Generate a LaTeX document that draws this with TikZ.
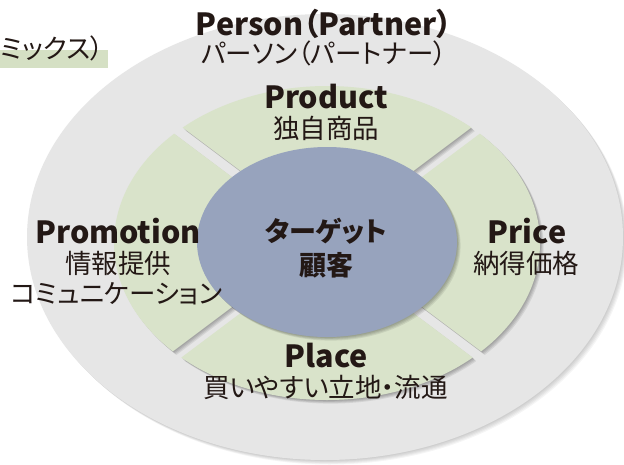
\documentclass[tikz,border=0pt]{standalone}
\usepackage{fontspec}
\setmainfont{Noto Sans CJK JP}[RawFeature=+palt]
\definecolor{ringgray}{HTML}{E6E6E6}
\definecolor{sage}{HTML}{D9E3CA}
\definecolor{bandgreen}{HTML}{D5E0C4}
\definecolor{targetblue}{HTML}{97A3BD}
\definecolor{ink}{HTML}{231815}
\newcommand\greenfill[1]{\fill[#1] (327,243) ellipse [x radius=213, y radius=157];}
\newcommand\sect[1]{\begin{scope}\clip #1; \greenfill{sage}\end{scope}}
\newcommand\sectshadow[1]{\foreach \k in {1,...,4}{\begin{scope}[shift={(\k*0.9,\k*0.9)}]\clip #1; \greenfill{black,opacity=0.08}\end{scope}}}
\tikzset{
  enlabel/.style={font=\fontsize{30.5}{30.5}\selectfont\bfseries, text=ink, inner sep=0pt, anchor=base},
  jplabel/.style={font=\fontsize{26.5}{26.5}\selectfont, text=ink, inner sep=0pt, anchor=base},
  tglabel/.style={font=\fontsize{27}{27}\selectfont\bfseries, text=ink, inner sep=0pt, anchor=base},
  titlelabel/.style={font=\fontsize{26.5}{26.5}\selectfont, text=ink, inner sep=0pt, anchor=base west}
}
\begin{document}
\begin{tikzpicture}[x=1pt,y=-1pt]
\useasboundingbox (0,0) rectangle (624,464);
\clip (0,0) rectangle (624,464);
\fill[white] (0,0) rectangle (624,464);
% top-left fragment
\fill[bandgreen] (0,50) rectangle (108,68);
\node[titlelabel] (mix) at (0.5,58) {ミックス）};
% outer ring
\foreach \k in {1,...,5}{\fill[black,opacity=0.04] (325+\k*0.9,237+\k*0.9) ellipse [x radius=298, y radius=223];}
\fill[ringgray] (325,237) ellipse [x radius=298, y radius=223];
% sector shadows
\sectshadow{(327,235.75) -- (727,-64.25) -- (-73,-64.25) -- cycle}
\sectshadow{(327,248.25) -- (727,548.25) -- (-73,548.25) -- cycle}
\sectshadow{(335.33,242) -- (735.33,-58) -- (735.33,542) -- cycle}
\sectshadow{(318.67,242) -- (-81.33,-58) -- (-81.33,542) -- cycle}
% sectors
\sect{(327,235.75) -- (727,-64.25) -- (-73,-64.25) -- cycle}
\sect{(327,248.25) -- (727,548.25) -- (-73,548.25) -- cycle}
\sect{(335.33,242) -- (735.33,-58) -- (735.33,542) -- cycle}
\sect{(318.67,242) -- (-81.33,-58) -- (-81.33,542) -- cycle}
% target
\foreach \k in {1,...,4}{\fill[black,opacity=0.08] (327+\k*0.9,242+\k*0.9) ellipse [x radius=130, y radius=95];}
\fill[targetblue] (327,242) ellipse [x radius=130, y radius=95];
% labels
\node[enlabel] (person) at (324,35) {Person（Partner）};
\node[jplabel] (personjp) at (324,63) {パーソン（パートナー）};
\node[enlabel] (product) at (326,108) {Product};
\node[jplabel] (productjp) at (326,138) {独自商品};
\node[enlabel] (promotion) at (118,243) {Promotion};
\node[jplabel] (promotionjp) at (118,273) {情報提供};
\node[jplabel] (promotionjp2) at (116.5,303) {コミュニケーション};
\node[enlabel] (price) at (527,243) {Price};
\node[jplabel] (pricejp) at (526,273) {納得価格};
\node[tglabel] (target) at (326,241) {ターゲット};
\node[tglabel] (customer) at (326,275) {顧客};
\node[enlabel] (place) at (326,367) {Place};
\node[jplabel] (placejp) at (325.5,397) {買いやすい立地・流通};
\end{tikzpicture}
\end{document}
